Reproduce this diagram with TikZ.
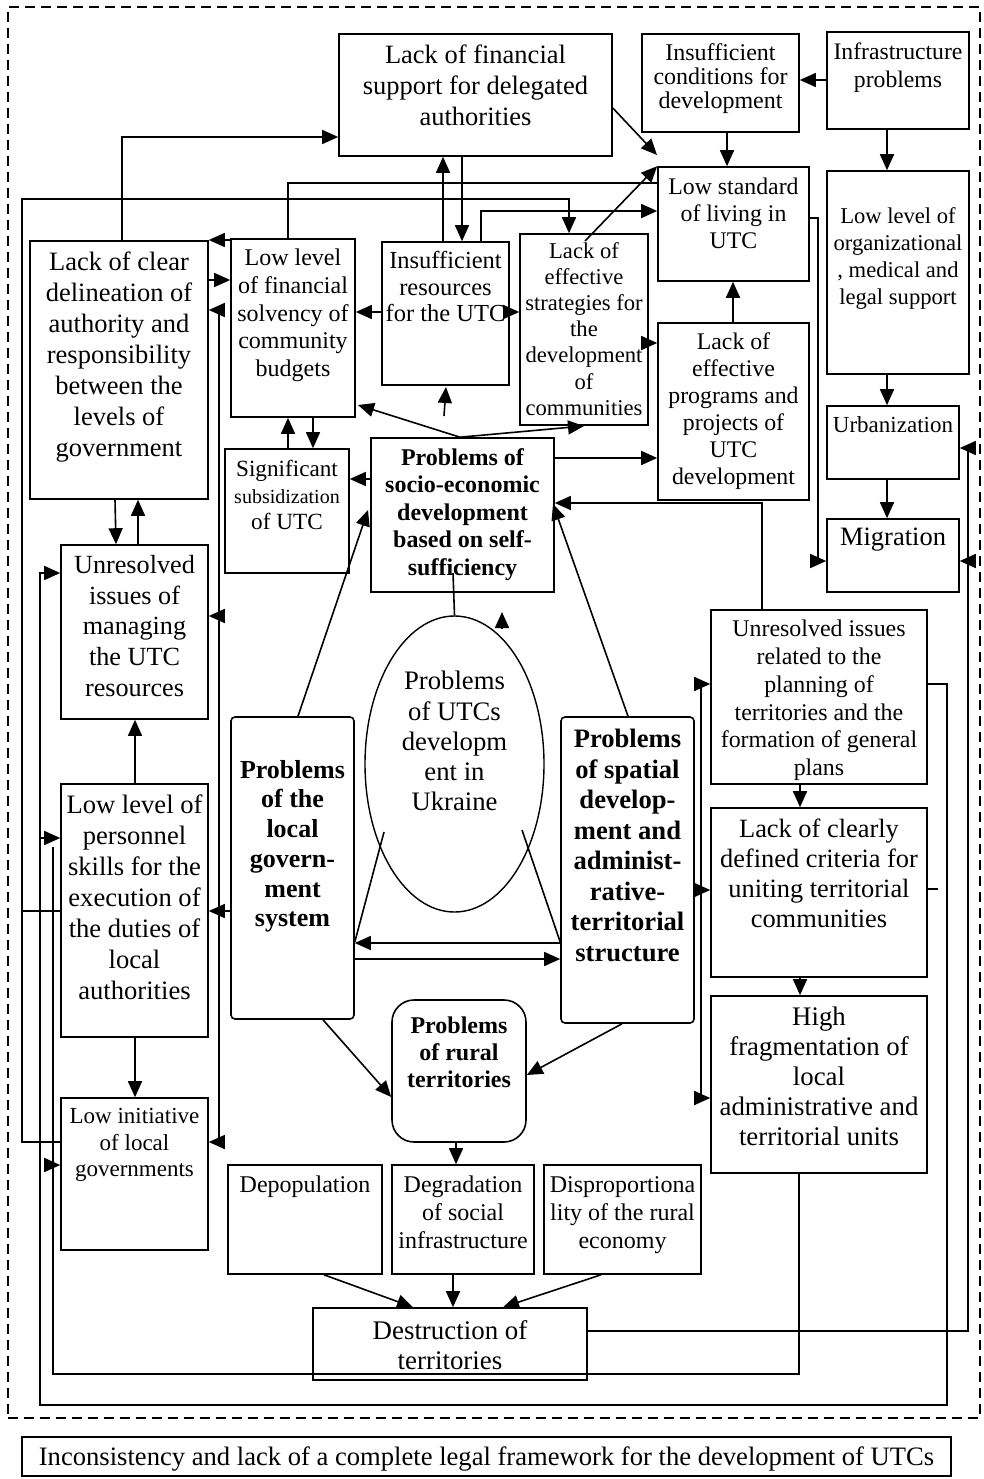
\documentclass[tikz,border=0pt]{standalone}
\usepackage{fontspec}
\setmainfont{Liberation Serif}
\usetikzlibrary{arrows.meta,fit,shapes.geometric}
\newcommand\fs[2]{\fontsize{#1}{#2}\selectfont}
\begin{document}
\begin{tikzpicture}[x=1pt,y=-1pt,
 box/.style={draw,line width=1.6pt,inner sep=0pt},
 tx/.style={align=center,inner sep=0pt,anchor=north},
 ln/.style={line width=1.6pt},
 arr/.style={line width=1.6pt,-{Triangle[length=16pt,width=14pt]}},
 ]
\useasboundingbox (0,0) rectangle (983,1479);
\node[draw,line width=1.3pt,dash pattern=on 10pt off 6pt,inner sep=0pt,fit={(8,7)(980,1418)}] (frame) {};

% boxes
\node[box,fit={(339,34)(612,156)}] (finsup) {};
\node[tx,font=\fs{26.5}{31}] at (475.5,45) {Lack of financial\\support for delegated\\authorities};
\node[box,fit={(642,34)(799,132)}] (cond) {};
\node[tx,font=\fs{24}{24}] at (720.5,43) {Insufficient\\conditions for\\development};
\node[box,fit={(827,32)(969,129)}] (infra) {};
\node[tx,font=\fs{23.7}{28}] at (898,43) {Infrastructure\\problems};
\node[box,fit={(658,167)(809,281)}] (stand) {};
\node[tx,font=\fs{23.8}{27}] at (733.5,178) {Low standard\\of living in\\UTC};
\node[box,fit={(827,171)(969,374)}] (org) {};
\node[tx,font=\fs{22.6}{27}] at (898,207) {Low level of\\organizational\\, medical and\\legal support};
\node[box,fit={(827,406)(959,479)}] (urb) {};
\node[tx,font=\fs{23}{27}] at (893,416) {Urbanization};
\node[box,fit={(827,519)(959,592)}] (mig) {};
\node[tx,font=\fs{26.5}{30}] at (893,528) {Migration};
\node[box,fit={(658,323)(809,500)}] (prog) {};
\node[tx,font=\fs{23.8}{27}] at (733.5,333) {Lack of\\effective\\programs and\\projects of\\UTC\\development};
\node[box,fit={(520,234)(648,425)}] (strat) {};
\node[tx,font=\fs{22.6}{26.2}] at (584,242) {Lack of\\effective\\strategies for\\the\\development\\of\\communities};
\node[box,fit={(382,242)(509,385)}] (res) {};
\node[tx,font=\fs{24.5}{26.7}] at (445.5,251) {Insufficient\\resources\\for the UTC};
\node[box,fit={(231,239)(355,417)}] (solv) {};
\node[tx,font=\fs{24}{27.7}] at (293,249) {Low level\\of financial\\solvency of\\community\\budgets};
\node[box,fit={(30,241)(208,499)}] (clear) {};
\node[tx,font=\fs{26.5}{31}] at (119,252) {Lack of clear\\delineation of\\authority and\\responsibility\\between the\\levels of\\government};
\node[box,fit={(225,449)(349,573)}] (subs) {};
\node[tx,font=\fs{23.2}{26.5}] at (287,460) {Significant\\{\fs{20}{26.5}subsidization}\\of UTC};
\node[box,fit={(371,438)(554,592)}] (socio) {};
\node[tx,font=\fs{24}{27.5}\bfseries] at (462.5,448) {Problems of\\socio-economic\\development\\based on self-\\sufficiency};
\node[box,fit={(61,545)(208,719)}] (manage) {};
\node[tx,font=\fs{26.2}{30.8}] at (134.5,555) {Unresolved\\issues of\\managing\\the UTC\\resources};
\node[box,fit={(61,784)(208,1037)}] (skills) {};
\node[tx,font=\fs{26.6}{31}] at (134.5,795) {Low level of\\personnel\\skills for the\\execution of\\the duties of\\local\\authorities};
\node[box,fit={(61,1098)(208,1250)}] (init) {};
\node[tx,font=\fs{23}{26.7}] at (134.5,1108) {Low initiative\\of local\\governments};
\node[box,rounded corners=4pt,fit={(231,717)(354,1019)}] (lgov) {};
\node[tx,font=\fs{26}{29.7}\bfseries] at (292.5,760) {Problems\\of the\\local\\govern-\\ment\\system};
\node[draw,line width=1.4pt,ellipse,inner sep=0pt,minimum width=179pt,minimum height=296pt] (ell) at (454.5,764) {};
\node[tx,font=\fs{26.7}{30.3}] at (454.5,671) {Problems\\of UTCs\\developm\\ent in\\Ukraine};
\node[box,rounded corners=4pt,fit={(561,717)(694,1023)}] (spat) {};
\node[tx,font=\fs{26.6}{30.5}\bfseries] at (627.5,729) {Problems\\of spatial\\develop-\\ment and\\administ-\\rative-\\territorial\\structure};
\node[box,fit={(711,610)(927,784)}] (plan) {};
\node[tx,font=\fs{23.9}{27.8}] at (819,620) {Unresolved issues\\related to the\\planning of\\territories and the\\formation of general\\plans};
\node[box,fit={(711,808)(927,977)}] (crit) {};
\node[tx,font=\fs{26.4}{30}] at (819,819) {Lack of clearly\\defined criteria for\\uniting territorial\\communities};
\node[box,fit={(711,996)(927,1173)}] (frag) {};
\node[tx,font=\fs{26.8}{30}] at (819,1007) {High\\fragmentation of\\local\\administrative and\\territorial units};
\node[box,rounded corners=22pt,fit={(392,1000)(526,1142)}] (rural) {};
\node[tx,font=\fs{24}{27}\bfseries] at (459,1017) {Problems\\of rural\\territories};
\node[box,fit={(228,1165)(382,1274)}] (depop) {};
\node[tx,font=\fs{24}{28}] at (305,1176) {Depopulation};
\node[box,fit={(392,1165)(534,1274)}] (degr) {};
\node[tx,font=\fs{24}{28}] at (463,1176) {Degradation\\of social\\infrastructure};
\node[box,fit={(544,1165)(701,1274)}] (disp) {};
\node[tx,font=\fs{24}{28}] at (622.5,1176) {Disproportiona\\lity of the rural\\economy};
\node[box,fit={(313,1308)(587,1380)}] (destr) {};
\node[tx,font=\fs{26.9}{30}] at (450,1320) {Destruction of\\territories};
\node[box,fit={(22,1437)(951,1476)}] (legal) {};
\node[tx,font=\fs{26.6}{30}] at (486.5,1447) {Inconsistency and lack of a complete legal framework for the development of UTCs};

% connectors
\draw[arr] (clear.north -| 122,0) |- (finsup.west |- 0,137);
\draw[ln] (solv.north -| 288,0) |- (stand.west |- 0,183);
\draw[arr] (init.west |- 0,1142) -- (22,1142) -- (22,199) -| (strat.north -| 569,0);
\draw[ln] (skills.west |- 0,911) -- (22,911);
\draw[arr] (res.north -| 481,0) |- (stand.west |- 0,211);
\draw[arr] (res.north -| 443,0) -- (finsup.south -| 443,0);
\draw[arr] (finsup.south -| 462,0) -- (res.north -| 462,0);
\draw[arr] (finsup.east |- 0,108) -- (657,155);
\draw[arr] (cond.south -| 727,0) -- (stand.north -| 727,0);
\draw[arr] (infra.west |- 0,80) -- (cond.east |- 0,80);
\draw[arr] (infra.south -| 887,0) -- (org.north -| 887,0);
\draw[arr] (org.south -| 887,0) -- (urb.north -| 887,0);
\draw[arr] (urb.south -| 887,0) -- (mig.north -| 887,0);
\draw[arr] (stand.east |- 0,218) -- (818,218) |- (mig.west |- 0,561);
\draw[arr] (prog.north -| 733,0) -- (stand.south -| 733,0);
\draw[arr] (strat.east |- 0,343) -- (prog.west |- 0,343);
\draw[arr] (585,241) -- (stand.north west);
\draw[arr] (res.east |- 0,312) -- (strat.west |- 0,312);
\draw[arr] (res.west |- 0,312) -- (solv.east |- 0,312);
\draw[arr] (solv.west |- 0,240) -- (clear.east |- 0,240);
\draw[arr] (clear.east |- 0,280) -- (solv.west |- 0,280);
\draw[arr] (socio.north -| 460,0) -- (358,405);
\draw[arr] (444,416) -- (446,387);
\draw[arr] (socio.north -| 460,0) -- (584,426);
\draw[arr] (socio.east |- 0,458) -- (prog.west |- 0,458);
\draw[arr] (socio.west |- 0,479) -- (subs.east |- 0,479);
\draw[arr] (subs.north -| 288,0) -- (solv.south -| 288,0);
\draw[arr] (solv.south -| 313,0) -- (subs.north -| 313,0);
\draw[arr] (clear.south -| 115,0) -- (manage.north -| 116,0);
\draw[arr] (manage.north -| 138,0) -- (clear.south -| 138,0);
\draw[arr] (skills.north -| 135,0) -- (manage.south -| 135,0);
\draw[arr] (skills.south -| 135,0) -- (init.north -| 135,0);
\draw[arr] (lgov.west |- 0,911) -- (skills.east |- 0,911);
\draw[arr] (219,911) |- (clear.east |- 0,310);
\draw[arr] (219,911) |- (init.east |- 0,1142);
\draw[arr] (219,616) -- (manage.east |- 0,616);
\draw[arr] (lgov.north -| 298,0) -- (368,510);
\draw[arr] (spat.north -| 628,0) -- (553,504);
\draw[arr] (plan.north -| 762,0) |- (socio.east |- 0,503);
\draw[ln] (453,573) -- (ell.north);
\draw[arr] (502,628) -- (502,612);
\draw[ln] (384,832) -- (lgov.east |- 0,942);
\draw[ln] (522,830) -- (spat.west |- 0,942);
\draw[arr] (spat.west |- 0,943) -- (lgov.east |- 0,943);
\draw[arr] (lgov.east |- 0,959) -- (spat.west |- 0,959);
\draw[arr] (lgov.south -| 323,0) -- (rural.west |- 0,1097);
\draw[arr] (spat.south -| 622,0) -- (rural.east |- 0,1075);
\draw[arr] (rural.south -| 456,0) -- (degr.north -| 456,0);
\draw[arr] (depop.south -| 324,0) -- (destr.north -| 413,0);
\draw[arr] (degr.south -| 453,0) -- (destr.north -| 453,0);
\draw[arr] (disp.south -| 601,0) -- (destr.north -| 503,0);
\draw[arr] (plan.south -| 800,0) -- (crit.north -| 800,0);
\draw[arr] (crit.south -| 800,0) -- (frag.north -| 800,0);
\draw[arr] (701,1098) |- (plan.west |- 0,684);
\draw[arr] (701,1098) -- (frag.west |- 0,1098);
\draw[arr] (701,890) -- (crit.west |- 0,890);
\draw[arr] (plan.east |- 0,684) -- (947,684) -- (947,1405) -- (40,1405) |- (manage.west |- 0,573);
\draw[arr] (40,838) -- (skills.west |- 0,838);
\draw[ln] (frag.south -| 799,0) |- (53,1374) -- (53,847);
\draw[arr] (53,1165) -- (init.west |- 0,1165);
\draw[ln] (destr.east |- 0,1331) -| (968,448);
\draw[arr] (968,448) -- (urb.east |- 0,448);
\draw[arr] (968,561) -- (mig.east |- 0,561);
\draw[ln] (crit.east |- 0,889) -- (938,889);
\end{tikzpicture}
\end{document}
